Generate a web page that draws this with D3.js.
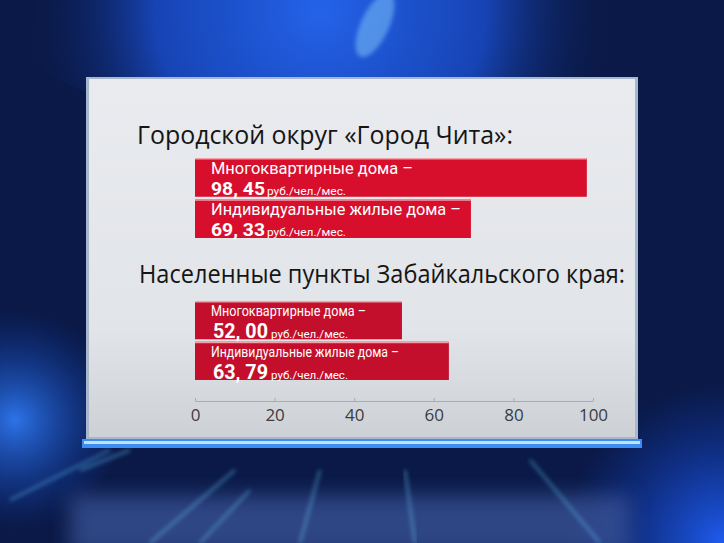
<!DOCTYPE html>
<html><head><meta charset="utf-8">
<script src="https://cdn.jsdelivr.net/npm/d3@7"></script>
<style>html,body{margin:0;padding:0;background:#0a1947;overflow:hidden}</style>
</head><body>
<svg id="c" width="724" height="543"></svg>
<script>
// ---- data ----
const groupTitles = ["Городской округ «Город Чита»:", "Населенные пункты Забайкальского края:"];
const categories = ["Многоквартирные дома", "Индивидуальные жилые дома"];
const valuesChita = [98.45, 69.33];
const valuesRegion = [52.00, 63.79];
const valueLabelsChita = ["98, 45", "69, 33"];
const valueLabelsRegion = ["52, 00", "63, 79"];
const unitLabel = "руб./чел./мес.";
const tickValues = [0, 20, 40, 60, 80, 100];

const svg = d3.select("#c");
const defs = svg.append("defs");

function radial(id, cx, cy, r, stops){
  const g = defs.append("radialGradient").attr("id", id).attr("gradientUnits","userSpaceOnUse")
    .attr("cx", cx).attr("cy", cy).attr("r", r);
  stops.forEach(s => g.append("stop").attr("offset", s[0]).attr("stop-color", s[1]).attr("stop-opacity", s[2]));
}
const blur = defs.append("filter").attr("id","blur").attr("x","-20%").attr("y","-20%").attr("width","140%").attr("height","140%");
blur.append("feGaussianBlur").attr("stdDeviation",2);
const blurBig = defs.append("filter").attr("id","blurBig").attr("x","-30%").attr("y","-30%").attr("width","160%").attr("height","160%");
blurBig.append("feGaussianBlur").attr("stdDeviation",10);

// background
svg.append("rect").attr("width",724).attr("height",543).attr("fill","#0a1947");
radial("gTop", 320, 10, 300, [[0,"#2463ea",1],[0.55,"#1a4fd0",0.8],[1,"#0a1947",0]]);
svg.append("ellipse").attr("cx",320).attr("cy",10).attr("rx",320).attr("ry",120).attr("fill","url(#gTop)");
svg.append("ellipse").attr("cx",375).attr("cy",25).attr("rx",14).attr("ry",35)
  .attr("transform","rotate(25,375,25)").attr("fill","#8fd8ff").attr("opacity",0.45).attr("filter","url(#blur)");
radial("gLeft", 15, 420, 110, [[0,"#2f78f0",0.95],[1,"#1040b0",0]]);
svg.append("circle").attr("cx",15).attr("cy",420).attr("r",110).attr("fill","url(#gLeft)");
radial("gBR", 724, 543, 160, [[0,"#1f5cf0",1],[1,"#1040c0",0]]);
svg.append("circle").attr("cx",724).attr("cy",543).attr("r",160).attr("fill","url(#gBR)");
// bottom floor band
svg.append("rect").attr("x",70).attr("y",495).attr("width",560).attr("height",60)
  .attr("fill","#3a5499").attr("opacity",0.75).attr("filter","url(#blurBig)");
// light streaks
const streaks = [[150,543,235,470],[200,543,250,490],[300,543,320,470],[415,543,405,470],[600,543,530,460],[10,500,110,450],[80,470,130,450]];
svg.selectAll("line.streak").data(streaks).enter().append("line")
  .attr("x1",d=>d[0]).attr("y1",d=>d[1]).attr("x2",d=>d[2]).attr("y2",d=>d[3])
  .attr("stroke","#5fc0f0").attr("stroke-opacity",0.5).attr("stroke-width",2.5).attr("filter","url(#blur)");

// panel
const pg = defs.append("linearGradient").attr("id","panel").attr("x1","0").attr("y1","0").attr("x2","0").attr("y2","1");
pg.append("stop").attr("offset","0").attr("stop-color","#e9ebef");
pg.append("stop").attr("offset","0.7").attr("stop-color","#e1e4e8");
pg.append("stop").attr("offset","1").attr("stop-color","#cdd1d6");
svg.append("rect").attr("x",86).attr("y",77).attr("width",552).attr("height",362).attr("fill","#a9b7cc");
svg.append("rect").attr("x",89).attr("y",79).attr("width",546).attr("height",358).attr("fill","url(#panel)");
// blue base strip
svg.append("rect").attr("x",82).attr("y",439).attr("width",560).attr("height",9).attr("fill","#3c8df2");
svg.append("rect").attr("x",84).attr("y",441).attr("width",556).attr("height",3).attr("fill","#bfe0ff");

// scales
const x = d3.scaleLinear().domain([0,100]).range([195,593]);
const y1 = d3.scaleBand().domain(categories).range([158,238]).paddingInner(0.06);
const y2 = d3.scaleBand().domain(categories).range([301,380]).paddingInner(0.06);

const font = "'Open Sans','Noto Sans',sans-serif";
const barFont = "Roboto,'Liberation Sans',sans-serif";

// titles
svg.append("text").attr("x",137).attr("y",144).attr("font-family",font).attr("font-size",25)
  .attr("fill","#151515").attr("textLength",376).attr("lengthAdjust","spacingAndGlyphs").text(groupTitles[0]);
svg.append("text").attr("x",139).attr("y",283).attr("font-family",font).attr("font-size",25)
  .attr("fill","#151515").attr("textLength",486).attr("lengthAdjust","spacingAndGlyphs").text(groupTitles[1]);

function drawGroup(vals, labels, y, color, cfg){
  const g = svg.append("g");
  const bars = g.selectAll("g.bar").data(categories).enter().append("g");
  bars.append("rect").attr("x",x(0)).attr("y",d=>y(d)).attr("width",(d,i)=>x(vals[i])-x(0))
    .attr("height",y.bandwidth()).attr("fill",color);
  bars.append("rect").attr("x",x(0)).attr("y",d=>y(d)).attr("width",(d,i)=>x(vals[i])-x(0))
    .attr("height",1.5).attr("fill","#f3a0a8");
  bars.append("text").attr("x",cfg.lx).attr("y",d=>y(d)+cfg.l1y).attr("font-family",barFont)
    .attr("font-size",cfg.l1fs).attr("fill","#fff").attr("lengthAdjust","spacingAndGlyphs")
    .attr("textLength",(d,i)=>cfg.l1w[i]).text(d=>d+" –");
  bars.append("text").attr("x",cfg.nx).attr("y",d=>y(d)+cfg.l2y).attr("font-family",barFont)
    .attr("font-size",cfg.nfs).attr("font-weight","bold").attr("fill","#fff")
    .attr("lengthAdjust","spacingAndGlyphs").attr("textLength",cfg.nw).text((d,i)=>labels[i]);
  bars.append("text").attr("x",cfg.ux).attr("y",d=>y(d)+cfg.l2y).attr("font-family",barFont)
    .attr("font-size",cfg.ufs).attr("fill","#fff")
    .attr("lengthAdjust","spacingAndGlyphs").attr("textLength",cfg.uw).text(unitLabel);
}
drawGroup(valuesChita, valueLabelsChita, y1, "#d80f2c",
  {lx:211, l1y:15.5, l1fs:16, l1w:[202,250], nx:211, l2y:36.5, nfs:18, nw:54, ux:267, ufs:11, uw:79});
drawGroup(valuesRegion, valueLabelsRegion, y2, "#c30f2c",
  {lx:211, l1y:15, l1fs:14, l1w:[155,188], nx:213, l2y:37, nfs:20, nw:55, ux:271, ufs:11, uw:77});

// axis
const axis = d3.axisBottom(x).tickValues(tickValues).tickSize(-3).tickPadding(8).tickSizeOuter(0);
const ag = svg.append("g").attr("transform","translate(0,401)").call(axis);
ag.select(".domain").attr("stroke","#a8abb0");
ag.selectAll(".tick line").attr("stroke","#a8abb0");
ag.selectAll(".tick text").attr("font-family",font).attr("font-size",17).attr("fill","#3c3c3c");
</script>
</body></html>
